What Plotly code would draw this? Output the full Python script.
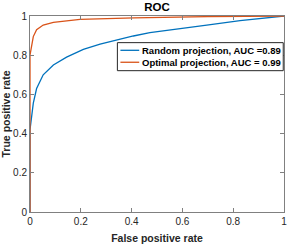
import plotly.graph_objects as go

rand_fpr = [0, 0, 0.013, 0.026, 0.052, 0.092, 0.144, 0.21, 0.276, 0.34, 0.407, 0.472, 0.564, 0.696, 0.827, 0.976, 1.0]
rand_tpr = [0, 0.42, 0.555, 0.63, 0.70, 0.75, 0.79, 0.83, 0.857, 0.878, 0.898, 0.915, 0.932, 0.954, 0.976, 0.998, 1.0]
opt_fpr = [0, 0, 0.004, 0.013, 0.026, 0.052, 0.092, 0.197, 0.41, 0.7, 1.0]
opt_tpr = [0, 0.80, 0.83, 0.895, 0.93, 0.954, 0.968, 0.983, 0.99, 0.997, 1.0]
series_names = ["Random projection, AUC =0.89", "Optimal projection, AUC = 0.99"]
series_colors = ["#0072BD", "#D95319"]
ticks = [0, 0.2, 0.4, 0.6, 0.8, 1]
tick_text = ["0", "0.2", "0.4", "0.6", "0.8", "1"]

font = "Liberation Sans, Arial, sans-serif"
fig = go.Figure()
fig.add_trace(go.Scatter(x=rand_fpr, y=rand_tpr, mode="lines", name=series_names[0],
                         line=dict(color=series_colors[0], width=1.3), showlegend=False))
fig.add_trace(go.Scatter(x=opt_fpr, y=opt_tpr, mode="lines", name=series_names[1],
                         line=dict(color=series_colors[1], width=1.3), showlegend=False))

axis_common = dict(range=[0, 1], tickvals=ticks, ticktext=tick_text, ticks="inside", ticklen=4,
                   tickcolor="#808080", showline=True, linecolor="#808080", linewidth=1,
                   mirror="allticks", showgrid=False, zeroline=False, automargin=False,
                   ticklabeloverflow="allow",
                   tickfont=dict(family=font, size=10, color="#262626"))
fig.update_xaxes(**axis_common, title=dict(text="<b>False positive rate</b>", font=dict(family=font, size=10.5, color="#262626"), standoff=8))
fig.update_yaxes(**axis_common, title=dict(text="<b>True positive rate</b>", font=dict(family=font, size=10.5, color="#262626"), standoff=3))

# manual legend box (MATLAB style)
fig.add_shape(type="rect", xref="paper", yref="paper", x0=0.344, x1=0.997, y0=0.721, y1=0.864,
              line=dict(color="#262626", width=1), fillcolor="white", layer="above")
row_y = [0.825, 0.764]
for name, color, yy in zip(series_names, series_colors, row_y):
    fig.add_shape(type="line", xref="paper", yref="paper", x0=0.356, x1=0.430, y0=yy, y1=yy,
                  line=dict(color=color, width=1.3), layer="above")
    fig.add_annotation(xref="paper", yref="paper", x=0.434, y=yy, xanchor="left", yanchor="middle",
                       text="<b>" + name + "</b>", showarrow=False,
                       font=dict(family=font, size=9.5, color="#000"))

fig.update_layout(
    width=291, height=247,
    margin=dict(l=30, r=7, t=16, b=35),
    plot_bgcolor="white", paper_bgcolor="white",
    title=dict(text="<b>ROC</b>", x=0.5, xanchor="center", xref="paper", yref="container",
               y=0.97, yanchor="middle", pad=dict(t=0, b=0),
               font=dict(family=font, size=11.5, color="#000000")),
    showlegend=False,
)
fig.write_html("out.html", config={"displayModeBar": False},
               post_script="document.body.style.margin='0';")
